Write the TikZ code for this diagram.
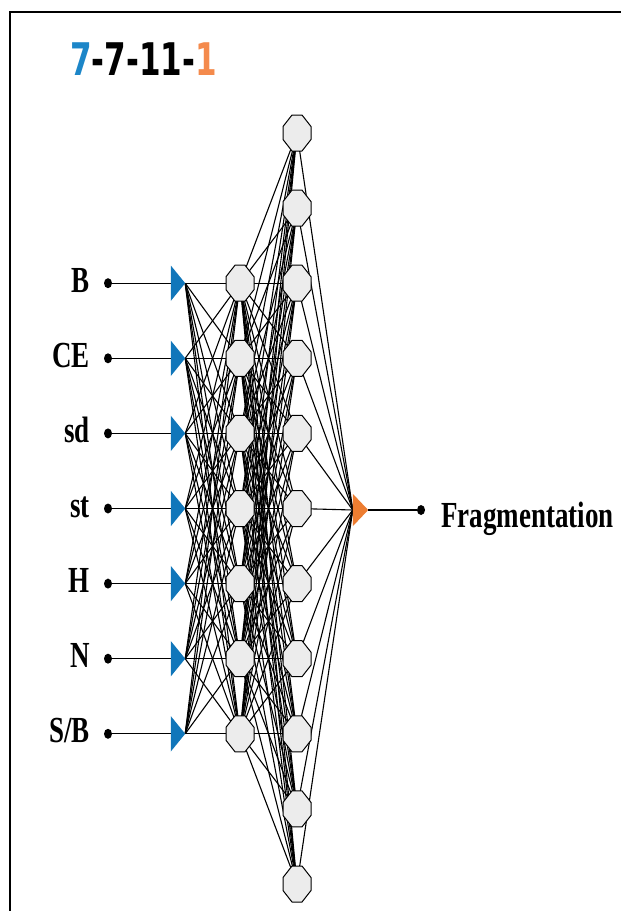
\documentclass[tikz,border=0pt]{standalone}
\usepackage{fontspec}
\setmainfont{Liberation Serif}
\newfontfamily\titlefont{DejaVu Sans}
\usetikzlibrary{shapes.geometric}
\definecolor{inblue}{RGB}{16,118,186}
\definecolor{outorange}{RGB}{237,125,49}
\definecolor{titleblue}{RGB}{28,134,200}
\definecolor{titleorange}{RGB}{244,138,76}
\definecolor{cellgray}{RGB}{236,236,236}
% labels are set in a tall, narrow form
\newcommand{\tall}[1]{\scalebox{1}[1.36]{#1}}

\begin{document}
\begin{tikzpicture}[x=1pt,y=-1pt,
  lbl/.style={font=\fontsize{27}{30}\selectfont\bfseries, inner sep=0pt, anchor=base east},
  dot/.style={ellipse, fill=black, inner sep=0pt, minimum width=8, minimum height=10},
  tribox/.style={rectangle, inner sep=0pt, minimum width=14, minimum height=35},
  cellbox/.style={rectangle, inner sep=0pt, minimum width=28, minimum height=36},
  wire/.style={line width=1.1pt, black},
  cell/.style={fill=cellgray, draw=black, line width=1pt},
  frameline/.style={line width=2pt, black},
]
\useasboundingbox (0,0) rectangle (621,911);

% frame (top and left edges)
\coordinate (fbl) at (10,911);
\coordinate (ftl) at (10,12);
\coordinate (ftr) at (621,12);
\draw[frameline] (fbl) -- (ftl) -- (ftr);

% title
\node[font=\titlefont\fontsize{31}{36}\selectfont\bfseries, anchor=base west, inner sep=0pt]
  (title) at (70,75) {\scalebox{1}[1.45]{\textcolor{titleblue}{7}-7-11-\textcolor{titleorange}{1}}};

% input layer and first hidden layer
\foreach \lab [count=\i] in {B,CE,sd,st,H,N,{S/B}} {
  \pgfmathsetmacro\yy{133+75.1*(\i+1)}
  \node[dot] (d\i) at (108,\yy) {};
  \node[lbl] (l\i) at (90,\yy+9) {\tall{\lab}};
  \node[tribox] (t\i) at (178,\yy) {};
  \node[cellbox] (a\i) at (240,\yy) {};
}
% second hidden layer
\foreach \j in {1,...,11} {
  \pgfmathsetmacro\yy{133+75.1*(\j-1)}
  \node[cellbox] (b\j) at (297,\yy) {};
}
% output
\node[tribox, minimum width=15, minimum height=32] (o) at (360.5,510) {};
\node[dot] (od) at (421,510) {};
\node[lbl, anchor=base west] (ol) at (441,527) {\tall{Fragmentation}};

% connections
\foreach \i in {1,...,7} {
  \draw[wire] (d\i) -- (t\i.west);
  \foreach \k in {1,...,7} \draw[wire] (t\i.east) -- (a\k.center);
  \foreach \j in {1,...,11} \draw[wire] (a\i.center) -- (b\j.center);
}
\foreach \j in {1,...,11} \draw[wire] (b\j.center) -- (o.west);
\draw[wire] (o.east) -- (od);

% triangles
\foreach \i in {1,...,7}
  \fill[inblue] (t\i.north west) -- (t\i.east) -- (t\i.south west) -- cycle;
\fill[outorange] (o.north west) -- (o.east) -- (o.south west) -- cycle;

% octagonal cells
\foreach \n in {a1,a2,a3,a4,a5,a6,a7,b1,b2,b3,b4,b5,b6,b7,b8,b9,b10,b11}
  \draw[cell, shift={(\n.center)}] (-5,-18) -- (5,-18) -- (14,-6.5) -- (14,6.5)
    -- (5,18) -- (-5,18) -- (-14,6.5) -- (-14,-6.5) -- cycle;
\end{tikzpicture}
\end{document}
